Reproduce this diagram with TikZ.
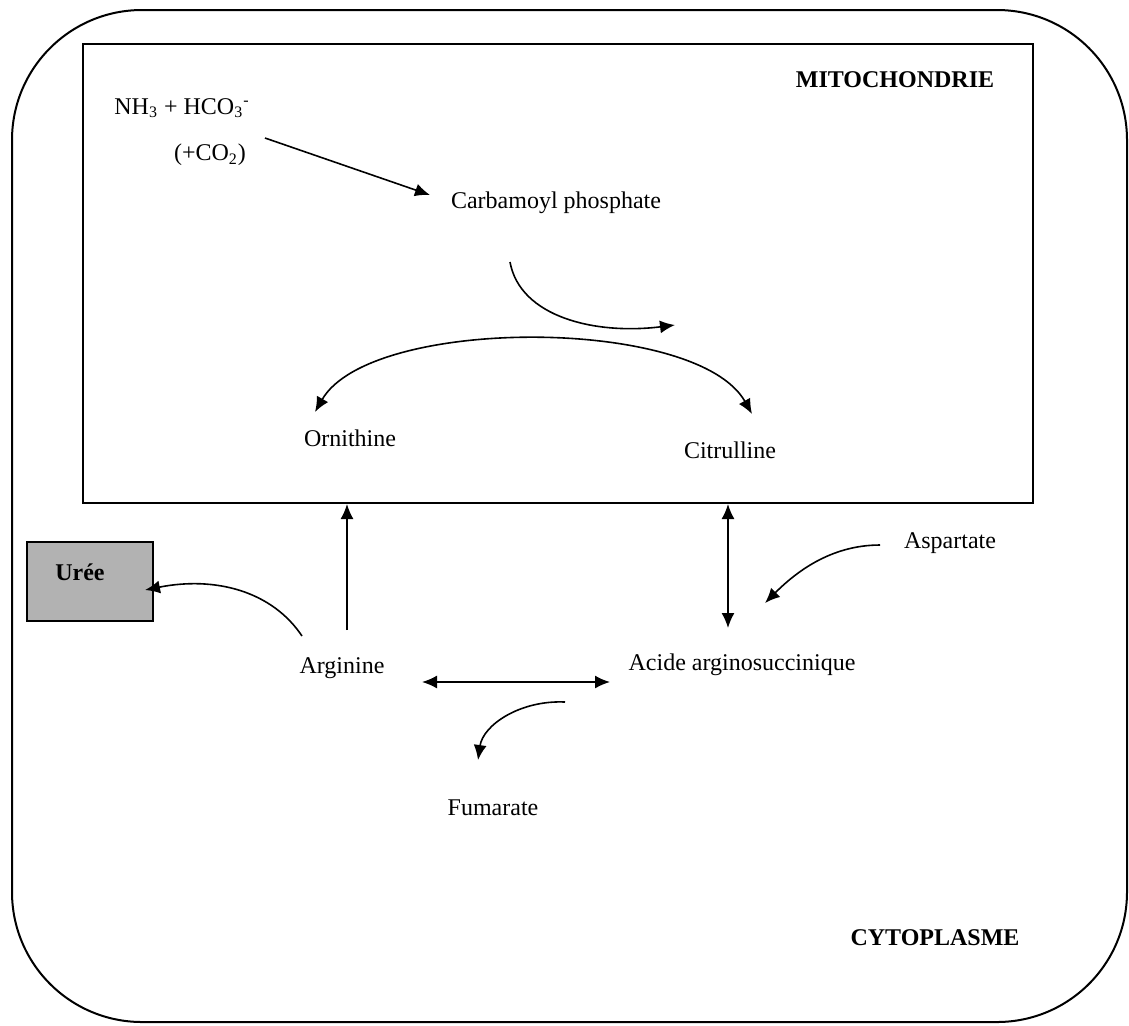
\documentclass[tikz,border=0pt]{standalone}
\usepackage{fontspec}
\setmainfont{Liberation Serif}
\usetikzlibrary{arrows.meta}

\begin{document}
\begin{tikzpicture}[x=0.5pt,y=-0.5pt,line width=0.8pt,
    >={Latex[length=7.5pt,width=6.5pt]},
    txt/.style={font=\fontsize{12}{14}\selectfont},
    titre/.style={font=\fontsize{12}{14}\selectfont\bfseries}]
            \useasboundingbox (0,0) rectangle (1129,1025);

            % Cytoplasme et mitochondrie
            \draw[line width=1pt, rounded corners=65pt] (12,10) rectangle (1127,1022);
            \node[draw, line width=1pt, minimum width=475pt, minimum height=229.5pt, inner sep=0pt] (mito) at (558,273.5) {};
            \node[titre] (titmito) at (895,80) {MITOCHONDRIE};
            \node[titre] (titcyto) at (935,938) {CYTOPLASME};

            % Molecules
            \node[txt] (nh3) at (182,108) {NH\textsubscript{3} + HCO\textsubscript{3}\textsuperscript{-}};
            \node[txt] (co2) at (210,155) {(+CO\textsubscript{2})};
            \node[txt] (carb) at (556,203) {Carbamoyl phosphate};
            \node[txt] (orn) at (350,438) {Ornithine};
            \node[txt] (cit) at (730,450) {Citrulline};
            \node[txt] (arg) at (342,668) {Arginine};
            \node[txt] (acide) at (742,665) {Acide arginosuccinique};
            \node[txt] (asp) at (950,543) {Aspartate};
            \node[txt] (fum) at (493,808) {Fumarate};

            % Uree
            \node[draw, line width=1pt, fill=gray!60, minimum width=63pt, minimum height=39.5pt] (uree) at (90,581.5) {};
            \node[titre] (ureetxt) at (80,572) {Urée};

            % Points de depart
            \coordinate (argHaut) at ([shift={(5,-38)}]arg.center);
            \coordinate (acideHaut) at ([shift={(-14,-37)}]acide.center);
            \coordinate (versCit) at (675,325);
            \coordinate (versAcide) at (765,603);

            % Cycle dans la mitochondrie
            \draw[->] ([shift={(83,30)}]nh3.center) -- ([shift={(-126,-8)}]carb.center);
            \draw[->] ([shift={(-46,59)}]carb.center) .. controls +(10,55) and +(-80,10) .. (versCit);
            \draw[<->] ([shift={(-35,-26)}]orn.center) .. controls +(55,-96) and +(-55,-98) .. ([shift={(22,-36)}]cit.center);

            % Echanges avec le cytoplasme
            \draw[->] (argHaut) -- (argHaut |- mito.south);
            \draw[<->] (acideHaut) -- (acideHaut |- mito.south);
            \draw[->] ([shift={(-70,2)}]asp.center) .. controls +(-50,0) and +(30,-30) .. (versAcide);
            \draw[->] ([shift={(-40,-32)}]arg.center) .. controls +(-30,-45) and +(70,-14) .. ([shift={(55,8.5)}]uree.center);
            \draw[<->] ([shift={(80,14)}]arg.center) -- ([shift={(-132,17)}]acide.center);
            \draw[->] ([shift={(-177,37)}]acide.center) .. controls +(-45,-2) and +(5,-35) .. ([shift={(-15,-48)}]fum.center);
\end{tikzpicture}
\end{document}
